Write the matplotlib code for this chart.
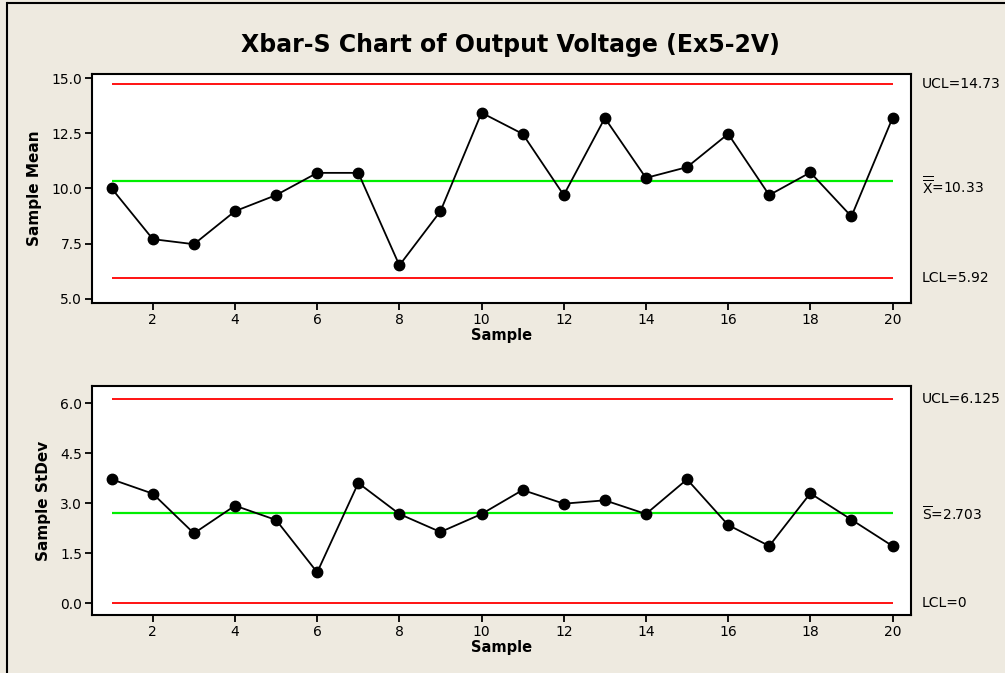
import numpy as np
import matplotlib
matplotlib.use('Agg')
import matplotlib.pyplot as plt
import matplotlib.transforms as mtransforms

# subgroup statistics for 20 samples
samples = np.arange(1, 21)
sample_means = [10.0, 7.7, 7.47, 8.97, 9.7, 10.71, 10.71, 6.51, 8.97, 13.44,
                12.48, 9.7, 13.2, 10.48, 10.97, 12.48, 9.7, 10.73, 8.73, 13.2]
sample_sds = [3.72, 3.29, 2.1, 2.93, 2.5, 0.93, 3.61, 2.68, 2.14, 2.68,
              3.4, 2.99, 3.09, 2.68, 3.72, 2.35, 1.72, 3.3, 2.51, 1.72]

# control limits
xbar_limits = {'ucl': 14.73, 'center': 10.33, 'lcl': 5.92}
s_limits = {'ucl': 6.125, 'center': 2.703, 'lcl': 0.0}

xbar_ticks = [5.0, 7.5, 10.0, 12.5, 15.0]
s_ticks = [0.0, 1.5, 3.0, 4.5, 6.0]
x_ticks = list(range(2, 21, 2))

plt.rcParams['font.family'] = 'DejaVu Sans'
plt.rcParams['mathtext.fontset'] = 'dejavusans'

BG = '#eeeae0'
W, H = 1005, 673
fig = plt.figure(figsize=(W / 100, H / 100), dpi=100, facecolor=BG)

# frame lines along the top and left edges
fig.add_artist(plt.Line2D([7 / W, 1.0], [1 - 3 / H, 1 - 3 / H],
                          color='black', lw=1.5, solid_capstyle='butt',
                          transform=fig.transFigure))
fig.add_artist(plt.Line2D([7 / W, 7 / W], [-0.01, 1 - 3 / H], color='black',
                          lw=1.5, transform=fig.transFigure))

fig.text(510 / W, 1 - 45 / H, 'Xbar-S Chart of Output Voltage (Ex5-2V)',
         ha='center', va='center', fontsize=17, fontweight='bold')


def make_axes(top, bottom):
    left, right = 92, 911
    return fig.add_axes([left / W, 1 - bottom / H, (right - left) / W,
                         (bottom - top) / H])


def draw_chart(ax, values, limits, ylim, yticks, ylabel, labels):
    ax.set_facecolor('white')
    ax.hlines([limits['ucl'], limits['lcl']], 1, 20, color='#ff0000', lw=1.3,
              zorder=2)
    ax.hlines(limits['center'], 1, 20, color='#00ee00', lw=1.6, zorder=2)
    ax.plot(samples, values, color='black', lw=1.3, marker='o',
            markersize=7.5, zorder=3)
    ax.set_xlim(0.52, 20.45)
    ax.set_ylim(*ylim)
    ax.set_xticks(x_ticks)
    ax.set_yticks(yticks)
    ax.set_yticklabels(['%.1f' % t for t in yticks])
    ax.tick_params(direction='out', length=5, width=1.3, labelsize=10,
                   colors='black', pad=2)
    for sp in ax.spines.values():
        sp.set_linewidth(1.5)
    ax.set_xlabel('Sample', fontsize=10.5, fontweight='bold', labelpad=1)
    ax.set_ylabel(ylabel, fontsize=11, fontweight='bold', labelpad=7)
    trans = mtransforms.blended_transform_factory(ax.transAxes, ax.transData)
    for key, text, dy in labels:
        ax.text(1.0134, limits[key] + dy, text, transform=trans, ha='left',
                va='center', fontsize=10, clip_on=False)


ax1 = make_axes(74, 303)
draw_chart(ax1, sample_means, xbar_limits, (4.8, 15.2), xbar_ticks,
           'Sample Mean',
           [('ucl', 'UCL=%.2f' % xbar_limits['ucl'], 0),
            ('center', r'$\overline{\overline{\mathrm{X}}}$=%.2f'
             % xbar_limits['center'], -0.2),
            ('lcl', 'LCL=%.2f' % xbar_limits['lcl'], 0)])

ax2 = make_axes(386, 615)
draw_chart(ax2, sample_sds, s_limits, (-0.35, 6.52), s_ticks,
           'Sample StDev',
           [('ucl', 'UCL=%.3f' % s_limits['ucl'], 0),
            ('center', r'$\overline{\mathrm{S}}$=%.3f' % s_limits['center'],
             -0.05),
            ('lcl', 'LCL=%g' % s_limits['lcl'], 0)])

fig.savefig('out.png', dpi=100, facecolor=BG)
